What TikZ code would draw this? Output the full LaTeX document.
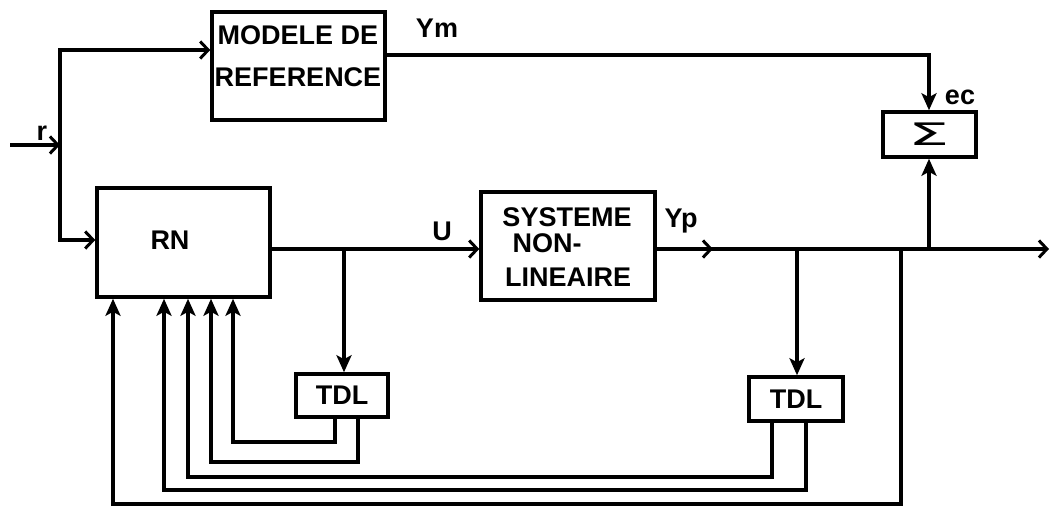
\documentclass[tikz,border=0pt]{standalone}
\usepackage{fontspec}
\setmainfont{Liberation Sans}
\newfontfamily\sigfont{DejaVu Sans}
\usetikzlibrary{arrows.meta}
\begin{document}
\begin{tikzpicture}[x=1pt,y=-1pt,
  blk/.style={draw, line width=3.5pt, inner sep=0pt, font=\fontsize{27}{30}\selectfont\bfseries},
  lbl/.style={font=\fontsize{27}{30}\selectfont\bfseries, inner sep=0pt},
  wire/.style={line width=3.2pt},
  chev/.style={-{Straight Barb[length=8pt,width=17pt,line width=3pt]}},
  tri/.style={-{Stealth[length=17pt,width=15pt,inset=4pt]}},
]
\useasboundingbox (0,0) rectangle (1051,507);
% blocks
\node[blk, minimum width=173pt, minimum height=108pt] (modele) at (298.5,66) {};
\node[lbl, align=center, font=\fontsize{27}{42}\selectfont\bfseries] (modeletxt) at (298,56) {MODELE DE\\REFERENCE};
\node[blk, minimum width=173pt, minimum height=109pt] (rn) at (183.5,242.5) {};
\node[lbl] (rntxt) at (170,240) {RN};
\node[blk, minimum width=174pt, minimum height=108pt] (sys) at (568,246) {};
\node[lbl] (sys1) at (567,217) {SYSTEME};
\node[lbl] (sys2) at (547,243) {NON-};
\node[lbl] (sys3) at (568,277) {LINEAIRE};
\node[blk, minimum width=93pt, minimum height=45pt] (sig) at (929.5,134.5) {};
\node[inner sep=0pt] (sigtxt) at (929,134) {\scalebox{2.1}[1]{\fontsize{31}{31}\sigfont Σ}};
\node[blk, minimum width=92pt, minimum height=43pt] (tdl1) at (342,395.5) {TDL};
\node[blk, minimum width=94pt, minimum height=44pt] (tdl2) at (796,399) {TDL};
% labels
\node[lbl] (rlbl) at (42,133) {r};
\node[lbl] (ulbl) at (442,231) {U};
\node[lbl] (yplbl) at (681,221) {Yp};
\node[lbl] (ymlbl) at (437,28) {Ym};
\node[lbl] (eclbl) at (960,97) {ec};
% input
\coordinate (rin) at (10,145);
\coordinate (rj) at (60,145);
\draw[wire,chev] (rin) -- (rj);
\draw[wire,chev] (rj) |- (modele.west |- 0,50);
\draw[wire,chev] (rj) |- (rn.west |- 0,240);
% forward path
\coordinate (b1) at (344,249);
\draw[wire,chev] (rn.east |- b1) -- (sys.west |- b1);
\draw[wire,tri] (b1) -- (b1 |- tdl1.north);
\coordinate (ymid) at (713,249);
\coordinate (yout) at (1049,249);
\draw[wire,chev] (sys.east |- yout) -- (yout);
\draw[wire,chev] (sys.east |- yout) -- (ymid);
\coordinate (b2) at (797,249);
\draw[wire,tri] (b2) -- (b2 |- tdl2.north);
\coordinate (b3) at (901,249);
\coordinate (fb) at (113,504);
\draw[wire,tri] (b3) |- (fb) -- (fb |- rn.south);
\coordinate (b4) at (929,249);
\draw[wire,tri] (b4) -- (b4 |- sig.south);
% reference model output
\coordinate (ymc) at (929,55);
\draw[wire,tri] (modele.east |- ymc) -- (ymc) -- (ymc |- sig.north);
% TDL feedbacks
\coordinate (c1) at (335,442);
\coordinate (c2) at (358,462);
\coordinate (c3) at (772,477);
\coordinate (c4) at (806,490);
\draw[wire,tri] (c1 |- tdl1.south) -- (c1) -| (233,0 |- rn.south);
\draw[wire,tri] (c2 |- tdl1.south) -- (c2) -| (211,0 |- rn.south);
\draw[wire,tri] (c3 |- tdl2.south) -- (c3) -| (188,0 |- rn.south);
\draw[wire,tri] (c4 |- tdl2.south) -- (c4) -| (164,0 |- rn.south);
\end{tikzpicture}
\end{document}
